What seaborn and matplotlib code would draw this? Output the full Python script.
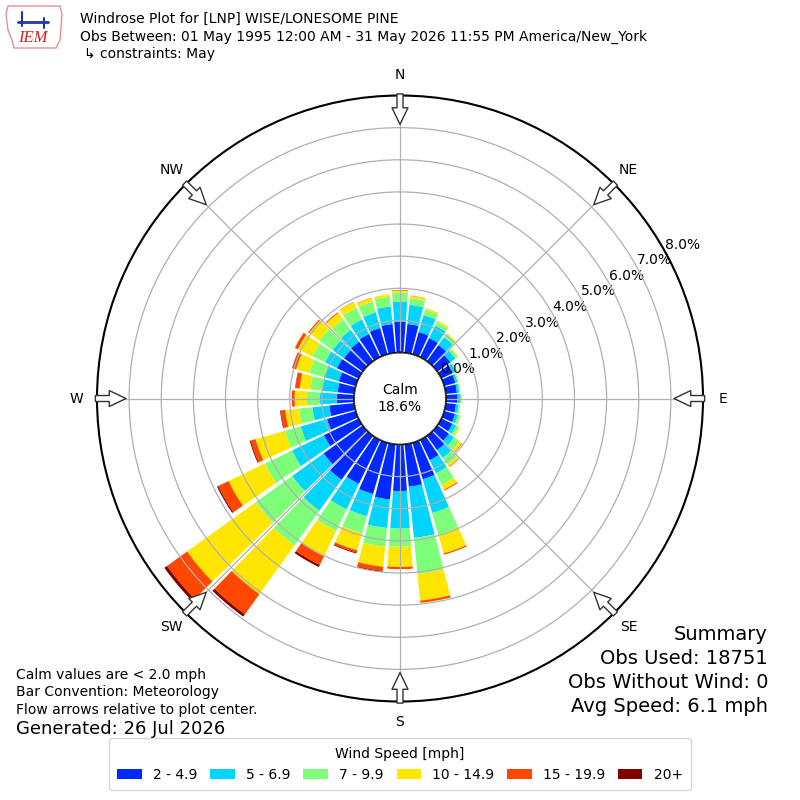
import numpy as np
import matplotlib
matplotlib.use("Agg")
import matplotlib.pyplot as plt
from matplotlib.patches import Circle, Patch, FancyArrowPatch, Polygon
import seaborn as sns

# wind directions (deg, meteorological) and frequency (%) per speed bin
directions = [0, 10, 20, 30, 40, 50, 60, 70, 80, 90, 100, 110, 120, 130, 140, 150, 160, 170,
              180, 190, 200, 210, 220, 230, 240, 250, 260, 270, 280, 290, 300, 310, 320, 330, 340, 350]
spd_2_5 = [0.96, 0.90, 0.72, 0.66, 0.62, 0.50, 0.40, 0.36, 0.35, 0.35, 0.32, 0.35, 0.38, 0.45, 0.55, 0.70, 1.18, 1.33,
           1.45, 1.73, 1.66, 1.52, 1.69, 1.50, 1.20, 0.93, 0.78, 0.54, 0.52, 0.55, 0.75, 0.72, 0.75, 0.80, 0.85, 0.90]
spd_5_7 = [0.62, 0.60, 0.55, 0.43, 0.30, 0.20, 0.10, 0.07, 0.07, 0.09, 0.08, 0.10, 0.14, 0.20, 0.30, 0.45, 1.09, 1.60,
           1.17, 0.89, 0.72, 0.88, 1.18, 1.20, 1.10, 0.85, 0.53, 0.52, 0.48, 0.45, 0.41, 0.43, 0.45, 0.50, 0.50, 0.55]
spd_7_10 = [0.29, 0.21, 0.16, 0.12, 0.11, 0.08, 0.05, 0.04, 0.04, 0.05, 0.05, 0.07, 0.08, 0.20, 0.25, 0.40, 0.71, 1.12,
            0.56, 0.58, 0.55, 0.75, 1.33, 1.40, 0.94, 0.51, 0.42, 0.41, 0.37, 0.50, 0.44, 0.51, 0.40, 0.40, 0.35, 0.30]
spd_10_15 = [0.06, 0.07, 0.06, 0.05, 0.04, 0.03, 0.01, 0.01, 0.00, 0.01, 0.01, 0.02, 0.04, 0.09, 0.08, 0.17, 0.60, 0.84,
             0.63, 0.63, 0.55, 0.87, 1.87, 2.63, 1.25, 0.95, 0.43, 0.38, 0.34, 0.43, 0.50, 0.39, 0.25, 0.20, 0.12, 0.08]
spd_15_20 = [0.02, 0.01, 0.00, 0.00, 0.00, 0.00, 0.00, 0.00, 0.00, 0.00, 0.00, 0.00, 0.00, 0.02, 0.02, 0.03, 0.04, 0.07,
             0.07, 0.13, 0.07, 0.30, 0.77, 0.77, 0.36, 0.16, 0.14, 0.09, 0.13, 0.12, 0.10, 0.04, 0.03, 0.01, 0.01, 0.00]
spd_20 = [0.00, 0.00, 0.00, 0.00, 0.00, 0.00, 0.00, 0.00, 0.00, 0.00, 0.00, 0.00, 0.00, 0.00, 0.00, 0.00, 0.00, 0.00,
          0.00, 0.03, 0.03, 0.07, 0.09, 0.10, 0.04, 0.03, 0.02, 0.00, 0.01, 0.01, 0.00, 0.00, 0.00, 0.00, 0.00, 0.00]
bin_labels = ["2 - 4.9", "5 - 6.9", "7 - 9.9", "10 - 14.9", "15 - 19.9", "20+"]
calm_pct = 18.6
rticks = [0, 1, 2, 3, 4, 5, 6, 7, 8]
compass = ["N", "NE", "E", "SE", "S", "SW", "W", "NW"]

sns.set_theme(style="white")
plt.rcParams["font.family"] = ["DejaVu Sans"]
for k in ["text.color", "axes.labelcolor", "xtick.color", "ytick.color"]:
    plt.rcParams[k] = "black"

colors = sns.color_palette(list(plt.cm.jet(np.linspace(0, 1, 7))[1:]))

fig = plt.figure(figsize=(8, 8), dpi=100)
ax = fig.add_axes([0.12125, 0.1231, 0.7575, 0.7575], projection="polar")
ax.set_theta_zero_location("N")
ax.set_theta_direction(-1)
ax.set_axisbelow("line")

theta = np.deg2rad(directions)
width = np.deg2rad(10) * 0.86
bins = [spd_2_5, spd_5_7, spd_7_10, spd_10_15, spd_15_20, spd_20]
bottom = np.zeros(len(directions))
for vals, col in zip(bins, colors):
    vals = np.array(vals)
    ax.bar(theta, vals, width=width, bottom=bottom, color=col, edgecolor="none", zorder=1)
    bottom += vals

ax.set_ylim(0, 8)
ax.set_rorigin(-1.43)
ax.set_yticks(rticks)
ax.set_yticklabels([f"{t:.1f}%" for t in rticks], fontsize=10)
ax.set_rlabel_position(61)
ax.set_xticks(np.deg2rad(np.arange(0, 360, 45)))
ax.set_xticklabels(compass, fontsize=10)
ax.tick_params(axis="x", pad=1.5)
ax.grid(True, color="#b0b0b0", lw=0.9)
ax.spines["polar"].set_linewidth(1.5)
ax.spines["polar"].set_color("black")

# calm circle
ax.add_patch(Circle((0.5, 0.5), 46 / 606, transform=ax.transAxes, fc="white", ec="black", lw=1, zorder=3))
ax.text(0.5, 0.5, f"Calm\n{calm_pct}%", transform=ax.transAxes, ha="center", va="center",
        fontsize=10, zorder=4, linespacing=1.3)

# flow arrows
for d in range(0, 360, 45):
    arr = FancyArrowPatch((np.deg2rad(d), 8.05), (np.deg2rad(d), 7.1), transform=ax.transData,
                          arrowstyle="simple,head_length=12,head_width=11.5,tail_width=4.3",
                          mutation_scale=1, shrinkA=0, shrinkB=0, fc="white", ec="#333333",
                          lw=1, clip_on=False, zorder=5)
    ax.add_artist(arr)

# header
fig.text(80 / 800, 1 - 19 / 800, "Windrose Plot for [LNP] WISE/LONESOME PINE", fontsize=10, va="center")
fig.text(80 / 800, 1 - 37 / 800, "Obs Between: 01 May 1995 12:00 AM - 31 May 2026 11:55 PM America/New_York",
         fontsize=10, va="center")
fig.text(84 / 800, 1 - 54 / 800, "\u21b3 constraints: May", fontsize=10, va="center")

# logo
iowa = np.array([[8, 6], [60, 6], [62, 14], [60, 40], [56, 48], [14, 48], [12, 40], [8, 30], [6, 14]])
fig.add_artist(Polygon(np.column_stack([iowa[:, 0] / 800, 1 - iowa[:, 1] / 800]), closed=True,
                       transform=fig.transFigure, fill=False, ec="#e89090", lw=1))
fig.add_artist(plt.Line2D([18 / 800, 48 / 800], [1 - 22 / 800, 1 - 22 / 800], color="#2233aa", lw=2,
                          transform=fig.transFigure))
fig.add_artist(plt.Line2D([22 / 800, 22 / 800], [1 - 12 / 800, 1 - 26 / 800], color="#2233aa", lw=1.5,
                          transform=fig.transFigure))
fig.add_artist(plt.Line2D([44 / 800, 44 / 800], [1 - 18 / 800, 1 - 28 / 800], color="#2233aa", lw=1.5,
                          transform=fig.transFigure))
fig.text(33 / 800, 1 - 38 / 800, "IEM", fontsize=12, color="#cc2222", style="italic",
         family=["Liberation Serif", "DejaVu Serif"], ha="center", va="center")

# footnotes
fig.text(16 / 800, 1 - 675 / 800, "Calm values are < 2.0 mph", fontsize=10, va="center")
fig.text(16 / 800, 1 - 692 / 800, "Bar Convention: Meteorology", fontsize=10, va="center")
fig.text(16 / 800, 1 - 710 / 800, "Flow arrows relative to plot center.", fontsize=10, va="center")
fig.text(16 / 800, 1 - 729 / 800, "Generated: 26 Jul 2026", fontsize=13, va="center")

summary = ["Summary", "Obs Used: 18751", "Obs Without Wind: 0", "Avg Speed: 6.1 mph"]
for i, s in enumerate(summary):
    fig.text(768 / 800, 1 - (635 + 24 * i) / 800, s, fontsize=14, ha="right", va="center")

handles = [Patch(facecolor=c, edgecolor="none") for c in colors]
leg = fig.legend(handles, bin_labels, loc="lower center", bbox_to_anchor=(0.5, 0.004), ncol=6,
                 title="Wind Speed [mph]", fontsize=10, title_fontsize=10, handlelength=1.75,
                 handleheight=0.7, columnspacing=0.95, borderpad=0.6, frameon=True, fancybox=True)
leg.get_frame().set_edgecolor("#cccccc")

fig.savefig("out.png", dpi=100)
